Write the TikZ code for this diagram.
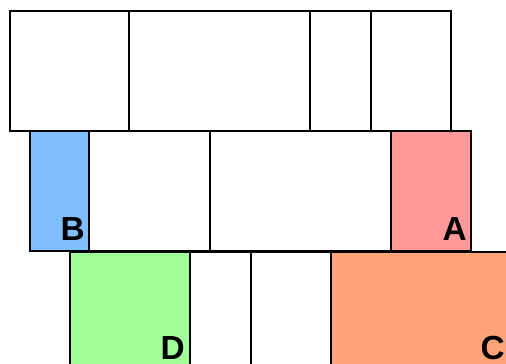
\documentclass[tikz,border=0pt]{standalone}
\usepackage{fontspec}
\setmainfont{Liberation Sans}
\definecolor{blockB}{HTML}{80BFFF}
\definecolor{blockA}{HTML}{FF9999}
\definecolor{blockD}{HTML}{A0FF99}
\definecolor{blockC}{HTML}{FFA478}
\tikzset{
    plate/.style={draw=black, line width=0.9pt, fill=white},
    tag/.style={font=\fontsize{19}{22}\selectfont\bfseries, inner sep=0pt, anchor=base east}
}
\begin{document}
\begin{tikzpicture}[x=0.02cm, y=-0.02cm]
    \useasboundingbox (0,0) rectangle (506,364);
    \clip (0,0) rectangle (506,364);

    % first row
    \foreach \xa/\xb in {10/129,129/310,310/371,371/451}{
        \draw[plate] (\xa,11) rectangle (\xb,131);
    }

    % second row
    \draw[plate, fill=blockB] (30,131) rectangle (89,251);
    \draw[plate] (89,131) rectangle (210,251);
    \draw[plate] (210,131) rectangle (391,251);
    \draw[plate, fill=blockA] (391,131) rectangle (471,251);
    \node[tag] (labB) at (85,240) {B};
    \node[tag] (labA) at (467,240) {A};

    % third row
    \draw[plate, fill=blockD] (70,252) rectangle (190,380);
    \draw[plate] (190,252) rectangle (251,380);
    \draw[plate] (251,252) rectangle (331,380);
    \draw[plate, fill=blockC] (331,252) rectangle (520,380);
    \node[tag] (labD) at (185,359) {D};
    \node[tag] (labC) at (505,359) {C};
\end{tikzpicture}
\end{document}
